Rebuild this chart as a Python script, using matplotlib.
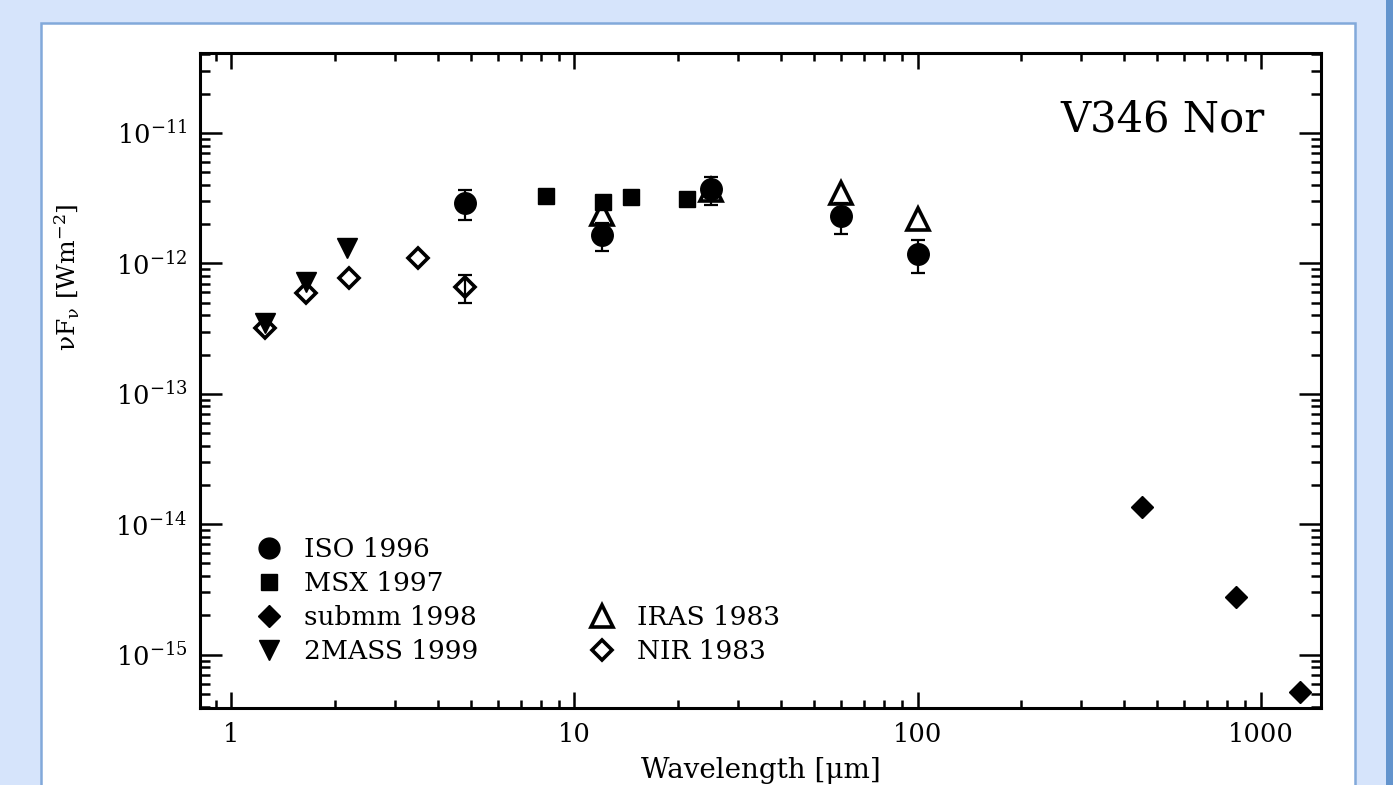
import matplotlib
matplotlib.use('Agg')
import matplotlib.pyplot as plt
import numpy as np
from matplotlib.lines import Line2D
from matplotlib.patches import Rectangle
from matplotlib.ticker import FixedLocator, FixedFormatter, LogLocator, NullFormatter

# ---------------- data ----------------
iso_wl = [4.8, 12, 25, 60, 100]
iso_flux = [2.9e-12, 1.65e-12, 3.7e-12, 2.3e-12, 1.18e-12]
iso_err = [0.75e-12, 0.40e-12, 0.90e-12, 0.62e-12, 0.34e-12]

msx_wl = [8.28, 12.13, 14.65, 21.34]
msx_flux = [3.3e-12, 2.95e-12, 3.2e-12, 3.1e-12]

submm_wl = [450, 850, 1300]
submm_flux = [1.35e-14, 2.75e-15, 5.2e-16]

tmass_wl = [1.25, 1.65, 2.17]
tmass_flux = [3.5e-13, 7.2e-13, 1.3e-12]

iras_wl = [12, 25, 60, 100]
iras_flux = [2.4e-12, 3.65e-12, 3.45e-12, 2.2e-12]

nir_wl = [1.25, 1.65, 2.2, 3.5, 4.8]
nir_flux = [3.2e-13, 5.9e-13, 7.7e-13, 1.1e-12, 6.6e-13]
nir_err = [0.0, 0.0, 0.0, 0.0, 0.16e-12]

xtick_vals = [1, 10, 100, 1000]
xtick_labels = ['1', '10', '100', '1000']
ytick_vals = [1e-15, 1e-14, 1e-13, 1e-12, 1e-11]
ytick_labels = [r'$10^{\mathregular{-15}}$', r'$10^{\mathregular{-14}}$',
                r'$10^{\mathregular{-13}}$', r'$10^{\mathregular{-12}}$',
                r'$10^{\mathregular{-11}}$']

labels = ['ISO 1996', 'MSX 1997', 'submm 1998', '2MASS 1999', 'IRAS 1983', 'NIR 1983']
title_text = 'V346 Nor'

# ---------------- style ----------------
plt.rcParams['font.family'] = ['DejaVu Serif']
plt.rcParams['mathtext.fontset'] = 'dejavuserif'

W, H = 1393, 785
fig = plt.figure(figsize=(W / 100, H / 100), dpi=100)
fig.patch.set_facecolor('#d6e4fb')

# white panel with blue border
fig.patches.append(Rectangle((41 / W, -0.05), (1355 - 41) / W, 1 - 23 / H + 0.05,
                             transform=fig.transFigure, facecolor='white',
                             edgecolor='#82a9da', linewidth=1.8, zorder=-10))
fig.patches.append(Rectangle((1386 / W, 0), 1, 1, transform=fig.transFigure,
                             facecolor='#6394cd', edgecolor='none', zorder=-10))

ax = fig.add_axes([200 / W, 1 - 708 / H, (1321 - 200) / W, (708 - 53) / H])
ax.set_facecolor('white')
ax.set_xscale('log')
ax.set_yscale('log')
ax.set_xlim(0.81, 1500)
ax.set_ylim(3.9e-16, 4.1e-11)

k = 'black'
# IRAS open triangles
ax.plot(iras_wl, iras_flux, linestyle='none', marker='^', ms=16, mfc='none',
        mec=k, mew=2.6, zorder=3)
# NIR open diamonds
ax.plot(nir_wl, nir_flux, linestyle='none', marker='D', ms=10.5, mfc='none',
        mec=k, mew=2.6, zorder=3)
nir_m = np.array(nir_err) > 0
ax.errorbar(np.array(nir_wl)[nir_m], np.array(nir_flux)[nir_m],
            yerr=np.array(nir_err)[nir_m], fmt='none', ecolor=k,
            elinewidth=1.6, capsize=5, capthick=1.6, zorder=3)
# 2MASS down triangles
ax.plot(tmass_wl, tmass_flux, linestyle='none', marker='v', ms=14, color=k, zorder=4)
# ISO circles with error bars
ax.errorbar(iso_wl, iso_flux, yerr=iso_err, fmt='o', ms=15.5, color=k,
            elinewidth=1.6, capsize=5, capthick=1.6, zorder=4)
# MSX squares
ax.plot(msx_wl, msx_flux, linestyle='none', marker='s', ms=12, color=k, zorder=4)
# submm filled diamonds
ax.plot(submm_wl, submm_flux, linestyle='none', marker='D', ms=11, color=k, zorder=4)

# ticks
ax.xaxis.set_major_locator(FixedLocator(xtick_vals))
ax.xaxis.set_major_formatter(FixedFormatter(xtick_labels))
ax.xaxis.set_minor_locator(LogLocator(base=10, subs=np.arange(2, 10)))
ax.xaxis.set_minor_formatter(NullFormatter())
ax.yaxis.set_major_locator(FixedLocator(ytick_vals))
ax.yaxis.set_major_formatter(FixedFormatter(ytick_labels))
ax.yaxis.set_minor_locator(LogLocator(base=10, subs=np.arange(2, 10), numticks=30))
ax.yaxis.set_minor_formatter(NullFormatter())

ax.tick_params(which='both', direction='in', top=True, right=True, width=1.8, colors=k)
ax.tick_params(axis='x', which='major', length=11.5, pad=10, labelsize=18.5)
ax.tick_params(axis='x', which='minor', length=6)
ax.tick_params(axis='y', which='major', length=16, pad=9, labelsize=18.5)
ax.tick_params(axis='y', which='minor', length=7.5)
for s in ax.spines.values():
    s.set_linewidth(2.2)

ax.set_xlabel('Wavelength [μm]', fontsize=20)
ax.xaxis.set_label_coords(0.5, -0.075)
ax.set_ylabel(r'νF$_{\mathregular{ν}}$ [Wm$^{\mathregular{-2}}$]', fontsize=18)
ax.yaxis.set_label_coords(-0.105, 0.658)

ax.text(0.950, 0.898, title_text, transform=ax.transAxes, ha='right', va='center',
        fontsize=30)

# legend
h_iso = Line2D([], [], linestyle='none', marker='o', ms=15, color=k)
h_msx = Line2D([], [], linestyle='none', marker='s', ms=12, color=k)
h_sub = Line2D([], [], linestyle='none', marker='D', ms=11, color=k)
h_2m = Line2D([], [], linestyle='none', marker='v', ms=14, color=k)
h_iras = Line2D([], [], linestyle='none', marker='^', ms=16, mfc='none', mec=k, mew=2.6)
h_nir = Line2D([], [], linestyle='none', marker='D', ms=10.5, mfc='none', mec=k, mew=2.6)
blank = Line2D([], [], linestyle='none', marker=None)
handles = [h_iso, h_msx, h_sub, h_2m, blank, blank, h_iras, h_nir]
leg_labels = [labels[0], labels[1], labels[2], labels[3], '', '', labels[4], labels[5]]
leg = ax.legend(handles, leg_labels, ncol=2, loc='lower left',
                bbox_to_anchor=(0.033, 0.039), frameon=False, fontsize=19,
                handlelength=1.0, handletextpad=0.83, columnspacing=4.2,
                labelspacing=0.34, borderpad=0.2)

fig.savefig('out.png', dpi=100, facecolor=fig.get_facecolor())
